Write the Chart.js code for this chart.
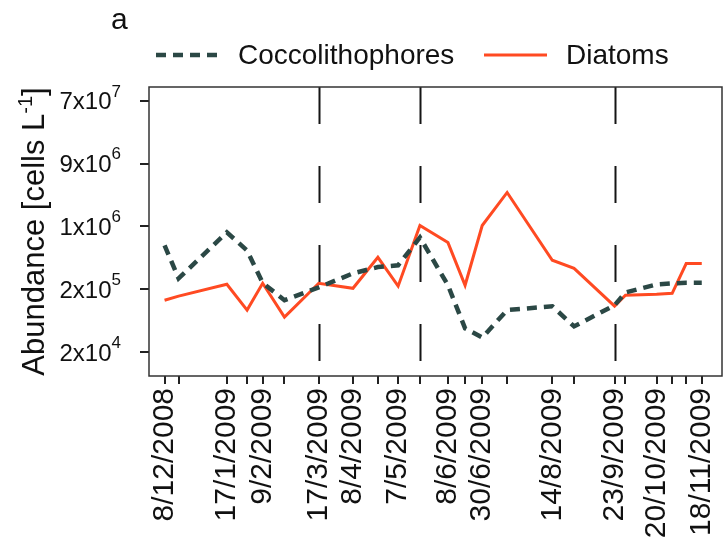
<!DOCTYPE html>
<html>
<head>
<meta charset="utf-8">
<script src="https://cdn.jsdelivr.net/npm/chart.js@4"></script>
<style>
  html, body { margin: 0; padding: 0; background: #fff; }
</style>
</head>
<body>
<canvas id="chart" width="725" height="552"></canvas>
<script>
// sampling dates (d/m/yyyy) and abundances in cells per litre
let sampleDates = [
  "8/12/2008", "17/12/2008", "17/1/2009", "30/1/2009", "9/2/2009", "23/2/2009",
  "17/3/2009", "8/4/2009", "24/4/2009", "7/5/2009", "21/5/2009", "8/6/2009",
  "19/6/2009", "30/6/2009", "16/7/2009", "14/8/2009", "28/8/2009", "23/9/2009",
  "30/9/2009", "20/10/2009", "30/10/2009", "8/11/2009", "18/11/2009"
];
let coccolithophores = [
  660000, 230000, 1000000, 560000, 200000, 115000,
  173000, 270000, 330000, 350000, 850000, 185000,
  47000, 35000, 84000, 95000, 50000, 98000,
  147000, 190000, 197000, 200000, 200000
];
let diatoms = [
  115000, 131000, 191000, 84000, 197000, 67000,
  197000, 168000, 450000, 180000, 1240000, 720000,
  185000, 1240000, 3550000, 410000, 317000, 95000,
  135000, 139000, 143000, 370000, 370000
];

// dates that get a written label under the axis
let labelledDates = [
  "8/12/2008", "17/1/2009", "9/2/2009", "17/3/2009", "8/4/2009", "7/5/2009",
  "8/6/2009", "30/6/2009", "14/8/2009", "23/9/2009", "20/10/2009", "18/11/2009"
];
// season boundaries shown as dashed verticals
let phaseDates = ["17/3/2009", "21/5/2009", "23/9/2009"];

// y ticks sit at e^10, e^12 ... and are labelled rounded
let yTickLn = [10, 12, 14, 16, 18];
let yTickLabels = ["2x10^4", "2x10^5", "1x10^6", "9x10^6", "7x10^7"];

let xRange = ["28/11/2008", "1/12/2009"];
let yRangeLn = [9.24, 18.44];

const FONT = "'Liberation Sans', Arial, Helvetica, sans-serif";

function dayOf(str) {
  let [d, m, y] = str.split("/").map(Number);
  return (Date.UTC(y, m - 1, d) - Date.UTC(2008, 11, 8)) / 86400000;
}

let sampleDays = sampleDates.map(dayOf);
let labelledDays = labelledDates.map(dayOf);

function series(values) {
  return sampleDays.map((d, i) => ({ x: d, y: values[i] }));
}

// box around the plot, season lines, y tick labels, axis title, legend
const decorations = {
  id: "decorations",
  beforeDatasetsDraw(chart) {
    let ctx = chart.ctx;
    let area = chart.chartArea;
    let xs = chart.scales.x;
    ctx.save();
    ctx.strokeStyle = "#151515";
    ctx.lineWidth = 2;
    ctx.setLineDash([37, 42]);
    phaseDates.forEach(function (d) {
      let px = Math.round(xs.getPixelForValue(dayOf(d))) + 0.5;
      ctx.beginPath();
      ctx.moveTo(px, area.top);
      ctx.lineTo(px, area.bottom);
      ctx.stroke();
    });
    ctx.restore();
  },
  afterDraw(chart) {
    let ctx = chart.ctx;
    let area = chart.chartArea;
    let ys = chart.scales.y;
    ctx.save();

    // frame
    ctx.strokeStyle = "#333";
    ctx.lineWidth = 1.5;
    ctx.strokeRect(area.left, area.top, area.right - area.left, area.bottom - area.top);

    // y tick labels with superscript exponents
    ctx.fillStyle = "#111";
    ctx.textBaseline = "middle";
    yTickLn.forEach(function (ln, i) {
      let py = ys.getPixelForValue(Math.exp(ln));
      let [base, sup] = yTickLabels[i].split("^");
      ctx.font = "17px " + FONT;
      let supW = ctx.measureText(sup).width;
      ctx.font = "24px " + FONT;
      let baseW = ctx.measureText(base).width;
      let right = 121;
      ctx.textAlign = "left";
      ctx.fillText(base, right - supW - baseW, py + 2);
      ctx.font = "17px " + FONT;
      ctx.fillText(sup, right - supW, py - 9);
    });

    // y axis title
    ctx.save();
    let cy = (area.top + area.bottom) / 2;
    ctx.translate(44, cy);
    ctx.rotate(-Math.PI / 2);
    ctx.textBaseline = "alphabetic";
    ctx.textAlign = "left";
    let parts = [
      { t: "Abundance [cells L", size: 31, dy: 0 },
      { t: "-1", size: 20, dy: -12 },
      { t: "]", size: 31, dy: 0 }
    ];
    let total = 0;
    parts.forEach(function (p) {
      ctx.font = p.size + "px " + FONT;
      p.w = ctx.measureText(p.t).width;
      total += p.w;
    });
    let x = -total / 2;
    parts.forEach(function (p) {
      ctx.font = p.size + "px " + FONT;
      ctx.fillText(p.t, x, p.dy);
      x += p.w;
    });
    ctx.restore();

    // panel letter
    ctx.font = "30px " + FONT;
    ctx.textAlign = "left";
    ctx.textBaseline = "alphabetic";
    ctx.fillText("a", 111, 29);

    // legend
    let legendY = 55;
    let items = [
      { ds: chart.data.datasets[0], x0: 156, x1: 223, tx: 238 },
      { ds: chart.data.datasets[1], x0: 484, x1: 547, tx: 566 }
    ];
    items.forEach(function (it) {
      ctx.save();
      ctx.strokeStyle = it.ds.borderColor;
      ctx.lineWidth = it.ds.borderWidth;
      ctx.setLineDash(it.ds.borderDash || []);
      ctx.beginPath();
      ctx.moveTo(it.x0, legendY);
      ctx.lineTo(it.x1, legendY);
      ctx.stroke();
      ctx.restore();
      ctx.fillStyle = "#111";
      ctx.font = "28px " + FONT;
      ctx.textBaseline = "middle";
      ctx.fillText(it.ds.label, it.tx, legendY + 1);
    });

    ctx.restore();
  }
};

let ctx = document.getElementById("chart").getContext("2d");
let chart = new Chart(ctx, {
  type: "line",
  data: {
    datasets: [
      {
        label: "Coccolithophores",
        data: series(coccolithophores),
        borderColor: "#2b4845",
        borderWidth: 4.5,
        borderDash: [10, 7],
        pointRadius: 0,
        tension: 0,
        fill: false
      },
      {
        label: "Diatoms",
        data: series(diatoms),
        borderColor: "#ff4a22",
        borderWidth: 3,
        pointRadius: 0,
        tension: 0,
        fill: false
      }
    ]
  },
  options: {
    responsive: false,
    animation: false,
    layout: { padding: { top: 87, right: 3, left: 0, bottom: 0 } },
    plugins: {
      legend: { display: false },
      tooltip: { enabled: false }
    },
    scales: {
      x: {
        type: "linear",
        min: dayOf(xRange[0]),
        max: dayOf(xRange[1]),
        afterBuildTicks: function (scale) {
          scale.ticks = sampleDays.map((v) => ({ value: v }));
        },
        afterFit: function (scale) {
          scale.height = 176;
          scale.paddingLeft = 0;
          scale.paddingRight = 0;
        },
        ticks: {
          autoSkip: false,
          minRotation: 90,
          maxRotation: 90,
          padding: 4,
          color: "#111",
          font: { family: FONT, size: 30 },
          callback: function (value) {
            let i = labelledDays.indexOf(value);
            return i >= 0 ? labelledDates[i] : "";
          }
        },
        grid: { drawOnChartArea: false, tickLength: 8, color: "#222", lineWidth: 2 },
        border: { display: false }
      },
      y: {
        type: "logarithmic",
        min: Math.exp(yRangeLn[0]),
        max: Math.exp(yRangeLn[1]),
        afterBuildTicks: function (scale) {
          scale.ticks = yTickLn.map((v) => ({ value: Math.exp(v) }));
        },
        afterFit: function (scale) {
          scale.width = 149;
          scale.paddingTop = 0;
          scale.paddingBottom = 0;
        },
        ticks: {
          callback: function () {
            return "";
          }
        },
        grid: { drawOnChartArea: false, tickLength: 9, color: "#222", lineWidth: 2 },
        border: { display: false }
      }
    }
  },
  plugins: [decorations]
});
</script>
</body>
</html>
